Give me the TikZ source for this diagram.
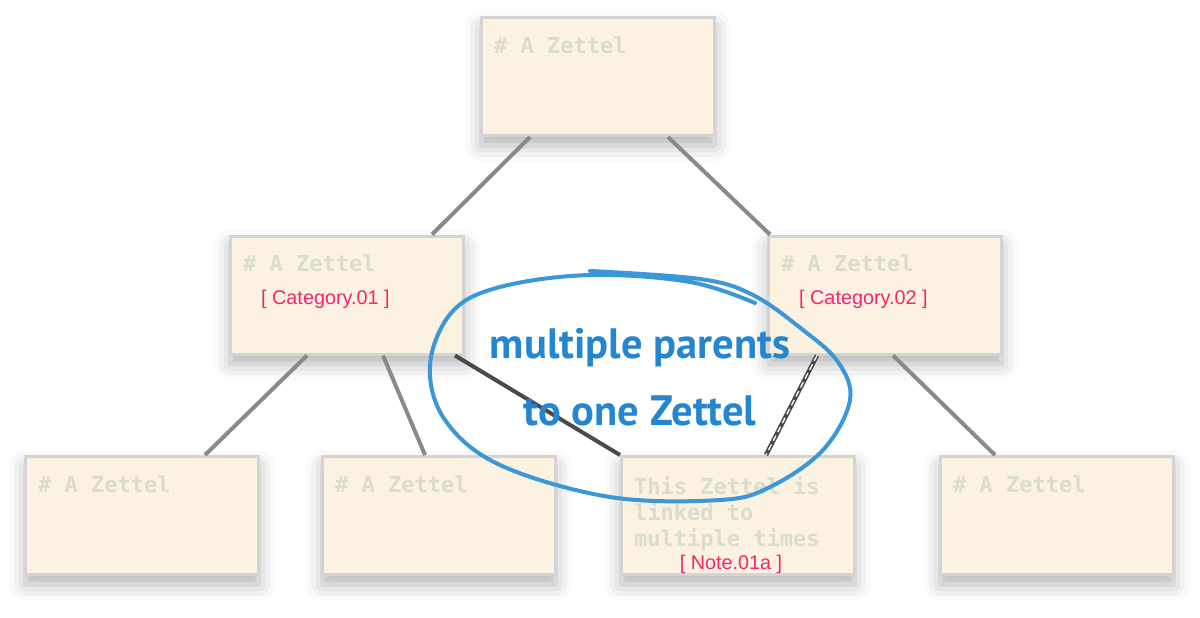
\documentclass[tikz,border=0pt]{standalone}
\usepackage{fontspec}
\setmainfont{Liberation Sans}
\setmonofont{DejaVu Sans Mono}
\newfontfamily\notefont{PT Sans}
\usetikzlibrary{shadows.blur}

\definecolor{paper}{HTML}{FBF2E1}
\definecolor{boxedge}{HTML}{D4D4D4}
\definecolor{headgray}{HTML}{D9DCCF}
\definecolor{tagpink}{HTML}{F5276D}
\definecolor{linkgray}{HTML}{8A8A8A}
\definecolor{linkdark}{HTML}{4A4A4A}
\definecolor{penblue}{HTML}{3B97D8}
\definecolor{inkblue}{HTML}{2485D0}

\begin{document}
\begin{tikzpicture}[
        x=1pt, y=-1pt,
        zettel/.style={draw=boxedge, line width=3pt, fill=paper,
            minimum width=233pt, minimum height=118pt, inner sep=0pt,
            blur shadow={shadow xshift=0pt, shadow yshift=-10pt,
                shadow blur radius=16pt, shadow opacity=30}},
        heading/.style={anchor=west, inner sep=0pt, text=headgray,
            font=\ttfamily\bfseries\fontsize{22}{26}\selectfont},
        tag/.style={anchor=west, inner sep=0pt, text=tagpink,
            font=\fontsize{19.8}{22}\selectfont},
        link/.style={draw=linkgray, line width=4pt},
        crosslink/.style={draw=linkdark, line width=4pt},
        callout/.style={align=center, inner sep=0pt, text=inkblue,
            font=\notefont\bfseries\fontsize{42.5}{67}\selectfont},
    ]
    \useasboundingbox (0,0) rectangle (1200,618);

    % the zettels
    \node[zettel] (top) at (598,76.5) {};
    \node[zettel] (cat1) at (347,295) {};
    \node[zettel] (cat2) at (885,295) {};
    \node[zettel] (zk1) at (142,515.5) {};
    \node[zettel] (zk2) at (439,515.5) {};
    \node[zettel] (zk3) at (738,515.5) {};
    \node[zettel] (zk4) at (1057,515.5) {};

    % texts inside
    \node[heading] (top-head) at ([xshift=14pt,yshift=-29pt]top.north west) {\# A Zettel};
    \node[heading] (cat1-head) at ([xshift=14pt,yshift=-29pt]cat1.north west) {\# A Zettel};
    \node[heading] (cat2-head) at ([xshift=14pt,yshift=-29pt]cat2.north west) {\# A Zettel};
    \node[heading] (zk1-head) at ([xshift=14pt,yshift=-29pt]zk1.north west) {\# A Zettel};
    \node[heading] (zk2-head) at ([xshift=14pt,yshift=-29pt]zk2.north west) {\# A Zettel};
    \node[heading] (zk4-head) at ([xshift=14pt,yshift=-29pt]zk4.north west) {\# A Zettel};
    \node[heading, anchor=north west, align=left] (zk3-head)
        at ([xshift=14pt,yshift=-21pt]zk3.north west) {This Zettel is\\linked to\\multiple times};
    \node[tag] (cat1-tag) at ([xshift=32pt,yshift=-65pt]cat1.north west) {[ Category.01 ]};
    \node[tag] (cat2-tag) at ([xshift=32pt,yshift=-65pt]cat2.north west) {[ Category.02 ]};
    \node[tag, anchor=center] (zk3-tag) at ([xshift=-7pt,yshift=12pt]zk3.south) {[ Note.01a ]};

    % links
    \draw[link] ([xshift=-68pt]top.south) -- ([xshift=85pt]cat1.north);
    \draw[link] ([xshift=70pt]top.south) -- ([xshift=-115pt]cat2.north);
    \draw[link] ([xshift=-40pt]cat1.south) -- ([xshift=63pt]zk1.north);
    \draw[link] ([xshift=36pt]cat1.south) -- ([xshift=-14pt]zk2.north);
    \draw[link] ([xshift=8pt]cat2.south) -- ([xshift=-62pt]zk4.north);
    \draw[crosslink] ([xshift=108pt]cat1.south) -- (zk3.north west);
    \draw[crosslink, line width=4.5pt] ([xshift=-68pt]cat2.south) -- ([xshift=28pt]zk3.north);
    \draw[white, line width=1.3pt, dash pattern=on 6pt off 4pt]
        ([xshift=-68pt]cat2.south) -- ([xshift=28pt]zk3.north);

    % the pen loop and note
    \draw[penblue, line width=4pt, line cap=round] plot[smooth, tension=0.6] coordinates {
        (755,303) (690,282) (590,275) (500,287) (452,312) (430,365) (445,420)
        (500,465) (610,497) (720,500) (770,487) (823,450) (850,400) (838,362)
        (803,330) (753,295) (700,279) (590,271)};
    \node[callout] (note) at (640,377) {multiple parents\\to one Zettel};
\end{tikzpicture}
\end{document}
